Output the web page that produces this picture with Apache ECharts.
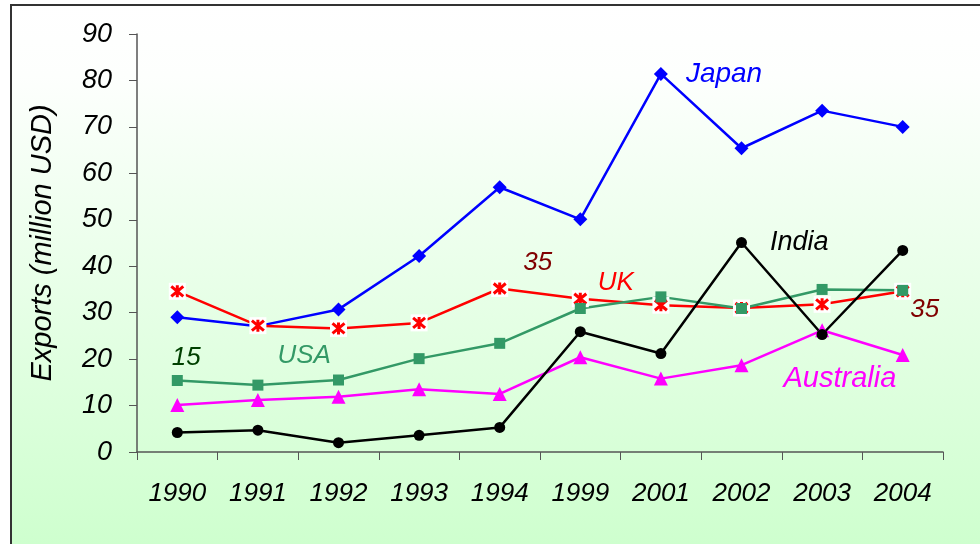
<!DOCTYPE html>
<html>
<head>
<meta charset="utf-8">
<script src="https://cdn.jsdelivr.net/npm/echarts@6/dist/echarts.min.js"></script>
<style>
    html, body { margin: 0; padding: 0; background: #fff; }
    #main { width: 980px; height: 544px; }
</style>
</head>
<body>
<div id="main"></div>
<script>
    // data
    var years = ['1990', '1991', '1992', '1993', '1994', '1999', '2001', '2002', '2003', '2004'];
    var japan = [29.0, 27.1, 30.7, 42.2, 57.0, 50.1, 81.4, 65.4, 73.5, 70.0];
    var uk = [34.6, 27.2, 26.6, 27.8, 35.2, 33.0, 31.6, 31.0, 31.8, 34.6];
    var usa = [15.4, 14.4, 15.5, 20.1, 23.4, 30.9, 33.4, 30.9, 35.0, 34.8];
    var australia = [10.1, 11.2, 11.9, 13.5, 12.5, 20.4, 15.8, 18.7, 26.2, 20.9];
    var india = [4.2, 4.7, 2.0, 3.6, 5.3, 25.9, 21.2, 45.1, 25.3, 43.4];
    var yTicks = { min: 0, max: 90, interval: 10 };

    var font = 'Liberation Sans, Arial, sans-serif';
    var asterisk = 'path://M0,0 L10,10 M10,0 L0,10 M5,-1 L5,11';

    function txt(color, size) {
        return { show: true, color: color, fontSize: size || 26, fontStyle: 'italic', fontFamily: font };
    }

    // put a label on one point of a series
    function withLabel(arr, idx, label) {
        return arr.map(function (v, i) {
            if (i !== idx) return v;
            return { value: v, label: label };
        });
    }

    var japanData = withLabel(japan, 6, Object.assign(txt('#0000ff', 28), {
        formatter: 'Japan', position: 'right', distance: 18
    }));

    var indiaData = withLabel(india, 7, Object.assign(txt('#000000', 27), {
        formatter: 'India', position: 'right', distance: 23
    }));

    var ukData = uk.map(function (v, i) {
        if (i === 4) return { value: v, label: Object.assign(txt('#800000'), {
            formatter: function (p) { return Math.round(p.value); }, position: 'right', distance: 16, offset: [0, -26] }) };
        if (i === 5) return { value: v, label: Object.assign(txt('#ff0000', 26), {
            formatter: 'UK', position: 'right', distance: 10, offset: [0, -16] }) };
        if (i === 9) return { value: v, label: Object.assign(txt('#800000'), {
            formatter: function (p) { return Math.round(p.value); }, position: 'right', distance: 0, offset: [0, 18] }) };
        return v;
    });

    var usaData = usa.map(function (v, i) {
        if (i === 0) return { value: v, label: Object.assign(txt('#004000'), {
            formatter: function (p) { return Math.round(p.value); }, position: 'top', distance: 4, offset: [9, 0] }) };
        if (i === 1) return { value: v, label: Object.assign(txt('#339966', 26), {
            formatter: 'USA', position: 'right', distance: 14, offset: [0, -29] }) };
        return v;
    });

    var ausData = withLabel(australia, 7, Object.assign(txt('#ff00ff', 29), {
        formatter: 'Australia', position: 'right', distance: 35, offset: [0, 14]
    }));

    var myChart = echarts.init(document.getElementById('main'));
    myChart.setOption({
        animation: false,
        graphic: [{
            type: 'rect',
            z: -10,
            silent: true,
            shape: { x: 11, y: 5, width: 1000, height: 600 },
            style: {
                fill: new echarts.graphic.LinearGradient(0, 0, 0, 1, [
                    { offset: 0, color: '#ffffff' },
                    { offset: 0.12, color: '#fdfffd' },
                    { offset: 1, color: '#c8ffc8' }
                ]),
                stroke: '#333',
                lineWidth: 2
            }
        }],
        grid: { left: 137, right: 37, top: 34, bottom: 92 },
        xAxis: {
            type: 'category',
            data: years,
            boundaryGap: true,
            axisLine: { lineStyle: { color: '#555', width: 1.5 } },
            axisTick: { show: true, length: 8, alignWithLabel: false, lineStyle: { color: '#555' } },
            axisLabel: { color: '#000', fontSize: 26, fontStyle: 'italic', fontFamily: font, margin: 29, interval: 0 },
            splitLine: { show: false }
        },
        yAxis: {
            type: 'value',
            min: yTicks.min,
            max: yTicks.max,
            interval: yTicks.interval,
            name: 'Exports (million USD)',
            nameLocation: 'middle',
            nameGap: 80,
            nameTextStyle: { color: '#000', fontSize: 29, fontStyle: 'italic', fontFamily: font },
            axisLine: { show: true, lineStyle: { color: '#555', width: 1.5 } },
            axisTick: { show: true, length: 8, lineStyle: { color: '#555' } },
            axisLabel: { color: '#000', fontSize: 27, fontStyle: 'italic', fontFamily: font, margin: 25 },
            splitLine: { show: false }
        },
        series: [
            {
                name: 'Japan', type: 'line', data: japanData,
                symbol: 'diamond', symbolSize: 14,
                lineStyle: { color: '#0000ff', width: 2.5 },
                itemStyle: { color: '#0000ff' }
            },
            {
                name: 'UK bg', type: 'line', data: uk,
                symbol: 'rect', symbolSize: 17,
                lineStyle: { width: 0, opacity: 0 },
                itemStyle: { color: '#ffffff' },
                silent: true
            },
            {
                name: 'UK', type: 'line', data: ukData,
                symbol: asterisk, symbolSize: 12,
                lineStyle: { color: '#ff0000', width: 2.5 },
                itemStyle: { color: '#ff0000', borderColor: '#ff0000', borderWidth: 3 }
            },
            {
                name: 'USA', type: 'line', data: usaData,
                symbol: 'rect', symbolSize: 11,
                lineStyle: { color: '#339966', width: 2.5 },
                itemStyle: { color: '#339966' }
            },
            {
                name: 'Australia', type: 'line', data: ausData,
                symbol: 'triangle', symbolSize: 14,
                lineStyle: { color: '#ff00ff', width: 2.5 },
                itemStyle: { color: '#ff00ff' }
            },
            {
                name: 'India', type: 'line', data: indiaData,
                symbol: 'circle', symbolSize: 11,
                lineStyle: { color: '#000000', width: 2.5 },
                itemStyle: { color: '#000000' }
            }
        ]
    });
</script>
</body>
</html>
